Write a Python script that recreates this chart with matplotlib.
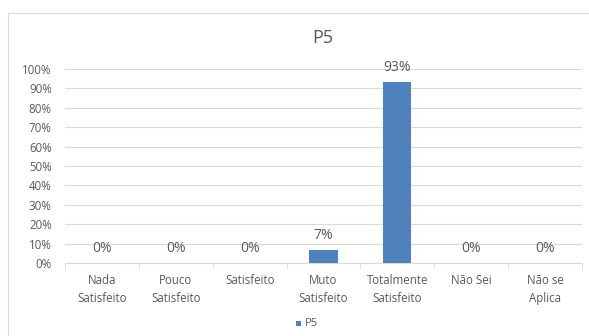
import matplotlib.pyplot as plt
from matplotlib.patches import Rectangle

categories = ['Nada\nSatisfeito', 'Pouco\nSatisfeito', 'Satisfeito', 'Muto\nSatisfeito',
              'Totalmente\nSatisfeito', 'Não Sei', 'Não se\nAplica']
values = [0.0, 0.0, 0.0, 0.067, 0.933, 0.0, 0.0]
labels = ['0%', '0%', '0%', '7%', '93%', '0%', '0%']
yticks = [i / 10 for i in range(11)]
ytick_labels = ['%d%%' % (i * 10) for i in range(11)]

plt.rcParams['font.family'] = ['Open Sans', 'DejaVu Sans']
grey = '#595959'
blue = '#4f81bd'

fig = plt.figure(figsize=(5.89, 3.36), dpi=100)
# chart border (runs off the right and bottom edge)
fig.patches.append(Rectangle((8 / 589, -10 / 336), 600 / 589, 333 / 336, transform=fig.transFigure,
                             fill=False, edgecolor='#d9d9d9', linewidth=0.8))
ax = fig.add_axes([65 / 589, 73 / 336, 517 / 589, 194 / 336])

x = list(range(len(categories)))
ax.bar(x, values, width=0.38, color=blue, zorder=3)
for xi, v, lab in zip(x, values, labels):
    ax.annotate(lab, (xi, v), xytext=(0, 5), textcoords='offset points',
                ha='center', va='bottom', fontsize=10, color=grey)

ax.set_xlim(-0.5, len(categories) - 0.5)
ax.set_ylim(0, 1)
ax.set_yticks(yticks)
ax.set_yticklabels(ytick_labels, fontsize=8.3, color=grey)
ax.yaxis.grid(True, color='#d9d9d9', linewidth=0.8, zorder=0)
ax.tick_params(axis='y', length=0, pad=9.5)

ax.set_xticks(x)
ax.set_xticklabels(categories, fontsize=8.3, color=grey, linespacing=1.45)
ax.set_xticks([i - 0.5 for i in range(len(categories) + 1)], minor=True)
ax.tick_params(axis='x', which='major', length=0, pad=8)
ax.tick_params(axis='x', which='minor', length=4, color='#d9d9d9', direction='out')

for s in ['top', 'right', 'left']:
    ax.spines[s].set_visible(False)
ax.spines['bottom'].set_color('#d9d9d9')

fig.text(323 / 589, 1 - 38 / 336, 'P5', ha='center', va='center', fontsize=13, color=grey)

# legend
fig.patches.append(Rectangle((296 / 589, 1 - 326 / 336), 5 / 589, 5 / 336, transform=fig.transFigure,
                             facecolor=blue, edgecolor='none'))
fig.text(305 / 589, 1 - 323 / 336, 'P5', ha='left', va='center', fontsize=8, color=grey)

fig.savefig('out.png', dpi=100)
